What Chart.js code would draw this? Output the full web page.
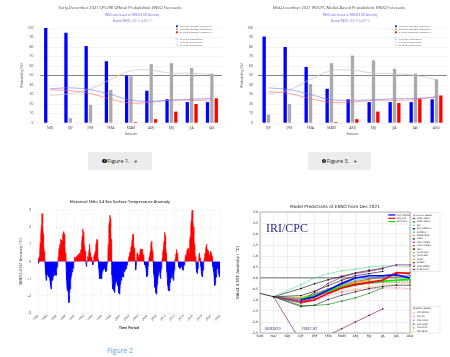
<!DOCTYPE html>
<html><head><meta charset="utf-8">
<script src="https://cdn.jsdelivr.net/npm/chart.js@4.4.1/dist/chart.umd.min.js"></script>
<style>
html,body{margin:0;padding:0;background:#fff;width:450px;height:357px;overflow:hidden;font-family:'Open Sans',sans-serif}
canvas{position:absolute;display:block}
.btn{position:absolute;top:152px;height:18px;background:#ececec;display:flex;align-items:center;justify-content:center;font-size:5.6px;color:#222}
.ic{display:inline-block;width:4.4px;height:4.4px;border-radius:50%;background:#111;color:#fff;font-size:3.4px;line-height:4.4px;text-align:center;font-weight:bold;margin-right:0.6px}
.car{font-size:4px;margin-left:4px}
#fig2{position:absolute;left:107px;top:346px;font-size:7px;color:#5aa6e6;line-height:9px}
</style></head><body>
<canvas id="c1" width="225" height="140" style="left:0;top:0;width:225px;height:140px"></canvas>
<canvas id="c2" width="225" height="140" style="left:225px;top:0;width:225px;height:140px"></canvas>
<canvas id="c3" width="225" height="140" style="left:0;top:196px;width:225px;height:140px"></canvas>
<canvas id="c4" width="225" height="145" style="left:225px;top:200px;width:225px;height:145px"></canvas>
<div class="btn" style="left:88px;width:64px"><span class="ic">i</span>Figure 1.<span class="car">&#9660;</span></div>
<div class="btn" style="left:308px;width:63px"><span class="ic">i</span>Figure 3.<span class="car">&#9660;</span></div>
<div id="fig2">Figure 2</div>
<script>
// ---------- Chart 1 data (Early-December official forecast) ----------
const seasons1 = ['NDJ','DJF','JFM','FMA','MAM','AMJ','MJJ','JJA','JAS'];
const laNina1 = [100,95,81,65,50,34,25,22,22];
const neutral1 = [0,5,19,35,49,62,63,58,52];
const elNino1 = [0,0,0,0,1,4,12,20,26];
const laNinaClim1 = [36,37,35,30,24,23,24,25,26];
const neutralClim1 = [29,31,36,46,55,55.5,52.5,52.5,51];
const elNinoClim1 = [35,34,31,25,21,22,24,24,24];

// ---------- Chart 2 data (Mid-December model-based forecast) ----------
const seasons2 = ['DJF','JFM','FMA','MAM','AMJ','MJJ','JJA','JAS','ASO'];
const laNina2 = [91,80,59,36,25,22,22,22,25];
const neutral2 = [9,20,41,63,71,66,57,52,46];
const elNino2 = [0,0,0,1,4,12,21,26,29];
const laNinaClim2 = [37,35,30,24.5,24,24.5,25.5,26,27];
const neutralClim2 = [30.5,35,46,55,55.5,52.5,52,50,45.5];
const elNinoClim2 = [33,31,25.5,21.8,22,24,24,24.5,28];

const legendNames = ['La Niña Forecast Probability','Neutral Forecast Probability','El Niño Forecast Probability','La Niña Climatology','Neutral Climatology','El Niño Climatology'];

// ---------- Chart 3 data (weekly Nino3.4 anomaly, [year, value]) ----------
const tickYears3 = [1982,1984,1986,1988,1990,1992,1994,1996,1998,2000,2002,2004,2006,2008,2010,2012,2014,2016,2018,2020,2022];
const nino34 = [
[1982.0,0.15],[1982.06,0.2],[1982.13,-0.1],[1982.2,0.05],[1982.28,0.3],[1982.38,0.6],[1982.48,1.1],[1982.56,1.0],[1982.64,1.5],[1982.73,2.1],[1982.83,2.6],[1982.9,2.8],[1982.98,2.75],[1983.06,2.3],[1983.14,1.6],[1983.23,1.1],[1983.33,0.6],[1983.43,0.2],[1983.5,0.0],
[1983.58,-0.3],[1983.68,-0.7],[1983.78,-1.1],[1983.86,-0.9],[1983.94,-0.6],[1984.03,-0.8],[1984.13,-0.6],[1984.21,-0.8],[1984.3,-0.6],[1984.38,-0.9],[1984.48,-0.8],[1984.56,-1.0],[1984.66,-1.2],[1984.76,-1.4],[1984.86,-1.6],[1984.94,-1.5],[1985.02,-1.2],[1985.1,-1.0],[1985.2,-1.1],[1985.3,-0.9],[1985.4,-0.7],[1985.5,-0.6],[1985.6,-0.8],[1985.7,-0.7],[1985.8,-0.8],[1985.9,-0.6],[1986.0,-0.8],[1986.1,-0.5],[1986.2,-0.3],[1986.3,-0.1],[1986.38,0.0],
[1986.46,0.3],[1986.56,0.6],[1986.66,0.8],[1986.76,1.0],[1986.84,0.9],[1986.92,1.2],[1987.02,1.3],[1987.12,1.25],[1987.2,1.1],[1987.28,1.2],[1987.38,1.3],[1987.48,1.5],[1987.58,1.7],[1987.66,1.75],[1987.74,1.6],[1987.83,1.4],[1987.92,1.0],[1988.0,0.5],[1988.08,0.1],[1988.14,0.0],
[1988.22,-0.6],[1988.3,-1.1],[1988.38,-1.6],[1988.48,-1.7],[1988.58,-1.5],[1988.68,-2.0],[1988.78,-2.4],[1988.86,-2.3],[1988.94,-1.9],[1989.04,-1.6],[1989.14,-1.5],[1989.24,-1.1],[1989.34,-0.8],[1989.44,-0.5],[1989.54,-0.6],[1989.64,-0.3],[1989.74,-0.4],[1989.84,-0.1],[1989.92,0.0],
[1989.96,0.2],[1990.06,0.25],[1990.16,0.15],[1990.26,0.25],[1990.36,0.2],[1990.46,0.3],[1990.56,0.2],[1990.66,0.35],[1990.76,0.25],[1990.86,0.4],[1990.96,0.45],[1991.06,0.35],[1991.16,0.5],[1991.26,0.4],[1991.36,0.6],[1991.46,0.7],[1991.54,0.65],[1991.62,1.0],[1991.72,1.5],[1991.8,1.85],[1991.88,1.9],[1991.96,1.7],[1992.06,1.2],[1992.16,1.0],[1992.26,1.0],[1992.36,0.6],[1992.44,0.2],[1992.5,0.0],
[1992.58,-0.2],[1992.66,-0.3],[1992.74,-0.1],[1992.82,0.1],[1992.92,0.3],[1993.02,0.2],[1993.12,0.4],[1993.22,0.7],[1993.3,1.0],[1993.38,0.9],[1993.46,0.5],[1993.56,0.3],[1993.66,0.25],[1993.76,0.15],[1993.86,0.2],[1993.96,0.0],[1994.04,-0.2],[1994.12,-0.1],[1994.2,0.2],[1994.3,0.3],[1994.4,0.4],[1994.5,0.5],[1994.6,0.6],[1994.7,0.9],[1994.8,1.1],[1994.9,1.3],[1994.98,1.25],[1995.06,0.9],[1995.16,0.4],[1995.24,0.1],[1995.29,0.0],
[1995.36,-0.4],[1995.44,-0.7],[1995.54,-1.0],[1995.64,-0.9],[1995.74,-1.0],[1995.84,-0.8],[1995.94,-1.0],[1996.04,-0.8],[1996.14,-0.6],[1996.24,-0.5],[1996.34,-0.4],[1996.44,-0.5],[1996.54,-0.3],[1996.64,-0.4],[1996.74,-0.3],[1996.84,-0.5],[1996.94,-0.6],[1997.04,-0.5],[1997.14,-0.3],[1997.24,-0.1],[1997.28,0.0],
[1997.36,0.5],[1997.44,1.0],[1997.52,1.5],[1997.6,2.0],[1997.68,2.3],[1997.76,2.6],[1997.82,2.7],[1997.9,2.5],[1997.98,2.0],[1998.06,1.3],[1998.14,0.6],[1998.22,0.0],
[1998.26,-0.8],[1998.34,-1.3],[1998.42,-1.6],[1998.5,-1.5],[1998.6,-1.7],[1998.7,-1.5],[1998.8,-1.8],[1998.9,-1.6],[1999.0,-1.3],[1999.1,-1.1],[1999.2,-1.2],[1999.3,-1.0],[1999.4,-1.2],[1999.5,-1.4],[1999.6,-1.3],[1999.7,-1.6],[1999.8,-1.8],[1999.9,-1.9],[2000.0,-1.7],[2000.1,-1.3],[2000.2,-1.0],[2000.3,-1.1],[2000.4,-0.8],[2000.5,-0.9],[2000.6,-0.7],[2000.7,-0.9],[2000.8,-0.6],[2000.9,-0.5],[2001.0,-0.6],[2001.1,-0.4],[2001.2,-0.5],[2001.3,-0.3],[2001.4,-0.4],[2001.5,-0.2],[2001.6,-0.2],[2001.7,-0.1],[2001.8,0.0],
[2001.9,0.2],[2002.0,0.3],[2002.1,0.5],[2002.2,0.4],[2002.3,0.6],[2002.4,0.8],[2002.5,0.9],[2002.6,1.1],[2002.7,1.3],[2002.8,1.5],[2002.9,1.6],[2003.0,1.2],[2003.1,0.8],[2003.2,0.5],[2003.3,0.3],[2003.4,0.0],
[2003.45,-0.3],[2003.5,-0.5],[2003.57,-0.2],[2003.63,0.0],[2003.71,0.3],[2003.79,0.5],[2003.87,0.3],[2003.95,0.4],[2004.03,0.2],[2004.11,0.3],[2004.19,0.35],[2004.29,0.4],[2004.39,0.5],[2004.49,0.7],[2004.59,0.75],[2004.69,0.7],[2004.79,0.6],[2004.89,0.7],[2004.99,0.6],[2005.09,0.4],[2005.19,0.3],[2005.29,0.1],[2005.34,0.0],[2005.44,-0.2],[2005.54,-0.1],[2005.64,-0.3],[2005.74,-0.4],[2005.84,-0.6],[2005.94,-0.9],[2006.04,-0.8],[2006.14,-0.5],[2006.24,-0.2],[2006.3,0.0],
[2006.39,0.2],[2006.49,0.3],[2006.59,0.5],[2006.69,0.6],[2006.79,0.9],[2006.89,1.1],[2006.97,1.2],[2007.05,1.0],[2007.15,0.6],[2007.25,0.2],[2007.33,0.0],
[2007.38,-0.4],[2007.46,-0.7],[2007.56,-1.0],[2007.66,-1.5],[2007.74,-1.3],[2007.82,-1.6],[2007.92,-1.8],[2008.02,-1.9],[2008.12,-1.6],[2008.22,-1.3],[2008.32,-1.1],[2008.42,-0.8],[2008.52,-0.6],[2008.62,-0.4],[2008.72,-0.6],[2008.82,-0.8],[2008.92,-1.0],[2009.02,-0.7],[2009.12,-0.4],[2009.22,0.0],
[2009.3,0.2],[2009.4,0.5],[2009.5,0.7],[2009.6,0.9],[2009.7,1.2],[2009.8,1.5],[2009.88,1.7],[2009.96,1.5],[2010.06,1.0],[2010.16,0.5],[2010.25,0.0],
[2010.34,-0.6],[2010.44,-1.1],[2010.54,-1.4],[2010.64,-1.7],[2010.74,-1.6],[2010.84,-1.7],[2010.94,-1.5],[2011.04,-1.2],[2011.14,-1.0],[2011.24,-0.9],[2011.34,-1.0],[2011.44,-0.6],[2011.54,-0.7],[2011.64,-0.9],[2011.74,-1.1],[2011.84,-0.8],[2011.94,-0.5],[2012.04,-0.2],[2012.1,0.0],
[2012.17,0.2],[2012.27,0.4],[2012.37,0.5],[2012.45,0.7],[2012.55,0.5],[2012.65,0.3],[2012.75,0.1],[2012.82,0.0],[2012.91,-0.3],[2013.01,-0.2],[2013.11,-0.4],[2013.21,-0.3],[2013.31,-0.4],[2013.41,-0.3],[2013.51,-0.3],[2013.61,-0.2],[2013.71,-0.4],[2013.81,-0.5],[2013.91,-0.5],[2014.01,-0.3],[2014.11,-0.2],[2014.21,-0.1],[2014.3,0.0],
[2014.36,0.3],[2014.44,0.4],[2014.54,0.3],[2014.64,0.5],[2014.74,0.6],[2014.84,0.7],[2014.94,0.8],[2015.02,0.75],[2015.12,0.6],[2015.2,0.5],[2015.28,0.8],[2015.38,1.2],[2015.48,1.5],[2015.58,2.0],[2015.68,2.4],[2015.78,2.7],[2015.88,3.0],[2015.96,2.9],[2016.06,2.5],[2016.16,2.0],[2016.26,1.5],[2016.36,1.0],[2016.46,0.6],[2016.56,0.3],[2016.66,0.1],[2016.7,0.0],
[2016.78,-0.4],[2016.88,-0.6],[2016.98,-0.7],[2017.08,-0.5],[2017.18,-0.4],[2017.26,-0.1],[2017.32,0.2],[2017.4,0.4],[2017.46,0.5],[2017.54,0.3],[2017.64,0.2],[2017.72,0.0],[2017.8,-0.3],[2017.88,-0.6],[2017.98,-0.8],[2018.08,-0.9],[2018.18,-0.7],[2018.28,-0.5],[2018.38,-0.3],[2018.47,0.0],
[2018.55,0.2],[2018.65,0.4],[2018.75,0.5],[2018.85,0.7],[2018.95,0.9],[2019.05,1.0],[2019.13,0.9],[2019.21,0.6],[2019.31,0.7],[2019.41,0.6],[2019.51,0.5],[2019.61,0.3],[2019.69,0.2],[2019.77,0.4],[2019.85,0.5],[2019.93,0.6],[2020.01,0.55],[2020.09,0.5],[2020.17,0.5],[2020.25,0.3],[2020.31,0.0],
[2020.38,-0.3],[2020.46,-0.2],[2020.54,-0.5],[2020.62,-0.6],[2020.7,-0.9],[2020.8,-1.2],[2020.88,-1.4],[2020.96,-1.3],[2021.04,-1.0],[2021.14,-0.9],[2021.24,-0.7],[2021.34,-0.5],[2021.44,-0.4],[2021.54,-0.3],[2021.62,-0.3],[2021.7,-0.5],[2021.78,-0.7],[2021.86,-0.9],[2021.94,-0.8],[2022.0,-0.9]
];

// ---------- Chart 4 data (model plume, DJF..ASO) ----------
const months4 = ['SON','Nov','NDJ','DJF','JFM','FMA','MAM','AMJ','MJJ','JJA','JAS','ASO'];
const observed4 = [-0.7,-0.85];
const dynNames = ['NASA GMAO','NCEP CFSv2','JMA','BCC_CSM11m','SINTEX-F','MetFRANCE','LDEO','CMC CANSIP','COLA CCSM4','KMA','IOCAS ICM','CS-IRI-MM','UKMO','ECMWF','GFDL SPEAR','SAUDI-KAU'];
const dynColors = ['#800080','#007a00','#55dd88','#000000','#22aaee','#ff8800','#222222','#cc00cc','#a0522d','#000000','#e6b800','#9966cc','#ff9900','#444444','#8b4513','#660066'];
const dynValues = [
 [-1.05,-0.65,-0.25,0.05,0.2,0.3,0.45,0.6,0.6],
 [-1.25,-1.25,-1.2,-1.05,-0.9,-0.7,-0.45,null,null],
 [-0.3,0.0,0.2,0.33,0.4,0.5,0.55,0.55,0.53],
 [-0.48,-0.26,-0.08,0.08,0.23,0.35,0.42,null,null],
 [-0.95,-0.75,-0.5,-0.3,-0.1,0.0,0.05,0.1,0.1],
 [-1.0,-0.9,-0.6,-0.35,-0.2,-0.1,null,null,null],
 [-1.3,-1.24,-0.98,-0.78,-0.63,-0.48,-0.38,-0.33,-0.33],
 [-1.1,-0.9,-0.65,-0.45,-0.3,-0.2,-0.1,null,null],
 [-1.0,-0.75,-0.5,-0.3,-0.15,-0.05,0.0,0.05,0.1],
 [-0.8,-0.6,-0.35,-0.1,0.1,0.2,0.3,null,null],
 [-0.9,-0.7,-0.5,-0.3,-0.2,-0.15,-0.1,-0.1,null],
 [-0.95,-0.8,-0.6,-0.4,-0.3,-0.25,-0.2,null,null],
 [-1.05,-0.85,-0.6,null,null,null,null,null,null],
 [-1.1,-0.9,-0.55,-0.2,0.0,null,null,null,null],
 [-1.15,-1.0,-0.7,-0.4,-0.2,-0.05,0.1,0.2,0.25],
 [-2.9,-2.8,-2.6,-2.3,-2.0,-1.7,-1.4,null,null]
];
const statNames = ['CPC MRKOV','CPC CA','NTU CODA','CSU CLIPR','UCLA-TCD','FSU REGR'];
const statColors = ['#ffaa33','#ff66aa','#999999','#555555','#999933','#ccdd44'];
const statValues = [
 [-1.0,-0.85,-0.7,-0.6,-0.5,-0.4,-0.3,-0.3,-0.25],
 [-1.1,-0.95,-0.8,-0.65,-0.55,-0.5,-0.45,-0.45,-0.48],
 [-1.0,-0.8,-0.6,-0.45,-0.35,-0.25,-0.2,-0.2,-0.15],
 [-0.9,-0.7,-0.5,-0.35,-0.25,-0.2,-0.15,-0.1,-0.1],
 [-1.0,-0.8,-0.55,-0.4,-0.3,-0.25,-0.2,-0.2,-0.2],
 [-0.95,-0.75,-0.55,-0.4,-0.3,-0.2,-0.15,-0.15,-0.1]
];
const avgNames = ['CPC CONSOL','DYN AVG','STAT AVG'];
const avgColors = ['#0000ff','#ff0000','#00ee00'];
const avgValues = [
 [-1.0,-0.85,-0.55,-0.25,0.0,0.1,0.1,0.15,0.0],
 [-1.1,-1.0,-0.7,-0.45,-0.3,-0.2,-0.1,0.25,0.2],
 [-0.95,-0.8,-0.6,-0.4,-0.3,-0.2,-0.15,-0.1,-0.05]
];

Chart.defaults.font.family = "'Open Sans', sans-serif";
Chart.defaults.animation = false;
Chart.defaults.plugins.legend.display = false;
Chart.defaults.plugins.tooltip.enabled = false;

function probChart(id, cats, la, ne, el, laC, neC, elC, g) {
  const overlay = {id:'ov'+id, afterDraw(chart){
    const ctx = chart.ctx;
    ctx.save();
    ctx.textAlign='center'; ctx.textBaseline='middle';
    ctx.fillStyle='#444'; ctx.font="4px 'Open Sans'";
    ctx.fillText(g.title, g.tx, 8.3);
    ctx.fillStyle='#6a5fd0'; ctx.font="2.7px 'Open Sans'";
    ctx.fillText('ENSO state based on NINO3.4 SST Anomaly', g.sx, 15.7);
    ctx.fillText('Neutral ENSO: \u22120.5 \u00b0C to 0.5 \u00b0C', g.sx, 21.3);
    const cols=['#0000ff','#aaaaaa','#ff0000','#8c8cff','#cfcfcf','#ff8080'];
    const ys=[26.3,29.3,32.3,39,42,45];
    ctx.textAlign='left'; ctx.font="2.5px 'Open Sans'";
    for(let i=0;i<6;i++){
      ctx.fillStyle=cols[i];
      if(i<3){ ctx.fillRect(g.lx, ys[i]-0.9, 1.8, 1.8); }
      else { ctx.strokeStyle=cols[i]; ctx.lineWidth=0.6; ctx.beginPath(); ctx.moveTo(g.lx-0.5, ys[i]); ctx.lineTo(g.lx+2.5, ys[i]); ctx.stroke(); }
      ctx.fillStyle='#555';
      ctx.fillText(legendNames[i], g.lx+4, ys[i]);
    }
    ctx.restore();
  }};
  const ln = (d,c)=>({type:'line', data:d, borderColor:c, borderWidth:0.8, pointRadius:0, tension:0.4, order:1});
  const br = (d,c)=>({data:d, backgroundColor:c, categoryPercentage:g.cp, barPercentage:g.bp, order:2});
  new Chart(document.getElementById(id), {
    type:'bar',
    data:{labels:cats, datasets:[
      ln(laC,'rgba(120,120,255,0.75)'), ln(neC,'rgba(195,195,195,0.9)'), ln(elC,'rgba(255,100,100,0.75)'),
      br(la,'#0000ff'), br(ne,'#aaaaaa'), br(el,'#ff0000')
    ]},
    options:{responsive:false, layout:{padding:{left:0,top:28,right:g.right,bottom:0}},
      scales:{
        x:{grid:{display:false, drawTicks:false}, border:{display:false},
           ticks:{font:{size:3.5}, color:'#444', padding:3},
           title:{display:true, text:'Season', font:{size:3.6}, color:'#444', padding:{top:0,bottom:3.6}},
           afterFit(a){a.height=17;}},
        y:{min:0, max:100, ticks:{stepSize:10, font:{size:3.4}, color:'#444', padding:g.tp},
           grid:{drawTicks:false, color:c=>c.tick.value===50?'#777':'#ececec', lineWidth:c=>c.tick.value===50?0.9:0.6},
           border:{display:false},
           title:{display:true, text:'Probability (%)', font:{size:3.6}, color:'#444', padding:{top:g.yt,bottom:0}},
           afterFit(a){a.width=g.left;}}
      }},
    plugins:[overlay]
  });
}

probChart('c1', seasons1, laNina1, neutral1, elNino1, laNinaClim1, neutralClim1, elNinoClim1,
  {title:'Early-December 2021 CPC/IRI Official Probabilistic ENSO Forecasts', tx:120, sx:132, lx:176, left:40, right:3, tp:6.5, yt:19.8, cp:0.65, bp:0.75});
probChart('c2', seasons2, laNina2, neutral2, elNino2, laNinaClim2, neutralClim2, elNinoClim2,
  {title:'Mid-December 2021 IRI/CPC Model-Based Probabilistic ENSO Forecasts', tx:114, sx:125, lx:170, left:33, right:3, tp:5, yt:14.8, cp:0.62, bp:0.77});

// ---------- Chart 3 ----------
new Chart(document.getElementById('c3'), {
  type:'line',
  data:{datasets:[{data:nino34.map(p=>({x:p[0], y:p[1]})), borderWidth:0.7, pointRadius:0, tension:0,
     segment:{borderColor:s=>(s.p0.parsed.y + s.p1.parsed.y) >= 0 ? '#ff0000' : '#0000ff'},
     fill:{target:{value:0}, above:'#ff0000', below:'#0000ff'}}]},
  options:{responsive:false, layout:{padding:{left:0,top:14,right:5,bottom:0}},
    scales:{
      x:{type:'linear', min:1982, max:2022,
         afterBuildTicks(a){a.ticks = tickYears3.map(v=>({value:v}));},
         ticks:{callback:v=>String(v), minRotation:45, maxRotation:45, autoSkip:false, font:{size:3}, color:'#333', padding:1},
         grid:{color:'#dedede', lineWidth:0.5, drawTicks:false}, border:{display:false, dash:[1.5,1.5]},
         title:{display:true, text:'Time Period', font:{size:3.4, weight:'bold'}, color:'#333', padding:{top:0,bottom:6}},
         afterFit(a){a.height=23;}},
      y:{min:-3, max:3, ticks:{stepSize:1, font:{size:3.6}, color:'#333', padding:7},
         grid:{color:'#dedede', lineWidth:0.5, drawTicks:false}, border:{display:false, dash:[1.5,1.5]},
         title:{display:true, text:'NINO3.4 SST Anomaly (\u00b0C)', font:{size:3.8}, color:'#333', padding:{top:18.7,bottom:0}},
         afterFit(a){a.width=38;}}
    }},
  plugins:[{id:'t3', afterDraw(chart){const ctx=chart.ctx; ctx.save(); ctx.textAlign='center'; ctx.textBaseline='middle'; ctx.fillStyle='#333'; ctx.font="600 3.9px 'Open Sans'"; ctx.fillText('Historical Ni\u00f1o 3.4 Sea Surface Temperature Anomaly', 120, 5.7); ctx.restore();}}]
});

// ---------- Chart 4 ----------
const ds4 = [];
avgValues.forEach((v,i)=>ds4.push({data:[null,null,null,...v], borderColor:avgColors[i], borderWidth:1.6, pointRadius:0, order:0}));
ds4.push({data:observed4.concat(Array(10).fill(null)), borderColor:'#000', borderWidth:0.8, pointRadius:[0,1.1], pointStyle:'rect', pointBackgroundColor:'#000', pointBorderWidth:0, order:0});
function modelSet(v, c, dash){
  return {data:[null, observed4[1], null, ...v], spanGaps:true, borderColor:c, borderWidth:0.6, borderDash:dash,
    pointRadius:[0,0,0,1,1,1,1,1,1,1,1,1], pointStyle:'rect', pointBackgroundColor:c, pointBorderWidth:0, order:1,
    segment:{borderColor:s=>s.p0DataIndex===1?'#c4c4c4':undefined, borderDash:s=>s.p0DataIndex===1?[]:undefined}};
}
dynValues.forEach((v,i)=>ds4.push(modelSet(v, dynColors[i], [])));
statValues.forEach((v,i)=>ds4.push(modelSet(v, statColors[i], [1.5,1])));

new Chart(document.getElementById('c4'), {
  type:'line',
  data:{labels:months4, datasets:ds4},
  options:{responsive:false, layout:{padding:{left:0,top:12,right:40,bottom:0}},
    scales:{
      x:{offset:false, grid:{color:'#e0e0e0', lineWidth:0.5, drawTicks:false}, border:{display:false},
         ticks:{font:{size:3.2, family:'DejaVu Sans'}, color:'#222', padding:1.5, autoSkip:false, maxRotation:0},
         afterFit(a){a.height=12;}},
      y:{min:-2.5, max:3.0, ticks:{stepSize:0.5, callback:v=>Number(v).toFixed(1), font:{size:3.2, family:'DejaVu Sans'}, color:'#222', padding:2},
         grid:{drawTicks:false, color:c=>Math.abs(c.tick.value)<1e-9?'#9a9a9a':'#e0e0e0', lineWidth:c=>Math.abs(c.tick.value)<1e-9?1.5:0.5},
         border:{display:false},
         title:{display:true, text:'Ni\u00f1o3.4 SST Anomaly ( \u00b0C)', font:{size:4, family:'DejaVu Sans'}, color:'#222', padding:{top:10.6,bottom:0}},
         afterFit(a){a.width=35;}}
    }},
  plugins:[{id:'t4', afterDraw(chart){
    const ctx=chart.ctx, a=chart.chartArea;
    ctx.save();
    ctx.strokeStyle='#888'; ctx.lineWidth=0.6; ctx.strokeRect(a.left, a.top, a.right-a.left, a.bottom-a.top);
    ctx.textAlign='center'; ctx.textBaseline='middle';
    ctx.fillStyle='#222'; ctx.font="4.3px 'DejaVu Sans'";
    ctx.fillText('Model Predictions of ENSO from Dec 2021', 110, 7);
    ctx.textAlign='left';
    ctx.fillStyle='#2a2a8a'; ctx.font="12px 'Liberation Serif'";
    ctx.fillText('IRI/CPC', 41, 28.5);
    ctx.font="3px 'Liberation Serif'";
    ctx.fillText('OBSERVED', 40, 129.3);
    ctx.fillText('FORECAST', 77, 129.3);
    ctx.fillStyle='#fff'; ctx.fillRect(162, 13, 22.5, 11);
    ctx.strokeStyle='#ccc'; ctx.lineWidth=0.4; ctx.strokeRect(162, 13, 22.5, 11);
    const ay=[15,18.3,21.6];
    ctx.font="2.1px 'DejaVu Sans'";
    for(let i=0;i<3;i++){
      ctx.strokeStyle=avgColors[i]; ctx.lineWidth=1.2; ctx.beginPath(); ctx.moveTo(163.3, ay[i]); ctx.lineTo(170.5, ay[i]); ctx.stroke();
      ctx.fillStyle='#222'; ctx.fillText(avgNames[i], 171.7, ay[i]);
    }
    ctx.strokeStyle='#ccc'; ctx.lineWidth=0.4; ctx.strokeRect(186, 12.7, 29, 59);
    ctx.fillStyle='#222'; ctx.font="2.1px 'DejaVu Sans'";
    ctx.fillText('Dynamical Models', 188, 15);
    for(let i=0;i<dynNames.length;i++){
      const y=18.5+i*3.4;
      ctx.strokeStyle=dynColors[i]; ctx.lineWidth=0.4; ctx.beginPath(); ctx.moveTo(187.3,y); ctx.lineTo(190.3,y); ctx.stroke();
      ctx.fillStyle=dynColors[i]; ctx.fillRect(188.2,y-0.7,1.4,1.4);
      ctx.fillStyle='#222'; ctx.fillText(dynNames[i], 192, y);
    }
    ctx.strokeStyle='#ccc'; ctx.strokeRect(186, 106.5, 29, 26.5);
    ctx.fillStyle='#222';
    ctx.fillText('Statistical Models', 188, 108.8);
    for(let i=0;i<statNames.length;i++){
      const y=112.6+i*3.8;
      ctx.strokeStyle=statColors[i]; ctx.lineWidth=0.4; ctx.setLineDash([0.8,0.5]); ctx.beginPath(); ctx.moveTo(187.3,y); ctx.lineTo(190.3,y); ctx.stroke(); ctx.setLineDash([]);
      ctx.fillStyle=statColors[i]; ctx.beginPath(); ctx.moveTo(188.8,y-0.9); ctx.lineTo(189.7,y+0.7); ctx.lineTo(187.9,y+0.7); ctx.closePath(); ctx.fill();
      ctx.fillStyle='#222'; ctx.fillText(statNames[i], 192, y);
    }
    ctx.restore();
  }}]
});
</script>
</body></html>
